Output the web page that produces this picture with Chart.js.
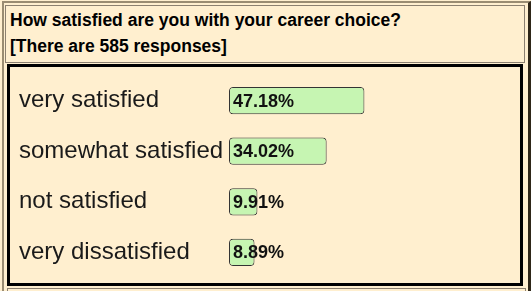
<!DOCTYPE html>
<html>
<head>
<meta charset="utf-8">
<script src="https://cdn.jsdelivr.net/npm/chart.js@4"></script>
<style>
  body { margin: 0; background: #FFEFCF; width: 531px; height: 291px; overflow: hidden; position: relative; font-family: Arial, "Liberation Sans", sans-serif; }
  #outer { position: absolute; left: 2px; top: 1px; width: 524px; height: 300px; border-left: 2px solid #9A8C72; border-top: 2px solid #9A8C72; border-right: 3px solid #2E2618; }
  #titleBox { position: absolute; left: 5px; top: 5px; width: 518px; height: 56px; border: 1px solid #8C8070; box-sizing: content-box; }
  #titleBox div { position: absolute; left: 4px; font-weight: bold; font-size: 17.5px; color: #000; white-space: nowrap; }
  #chartBox { position: absolute; left: 7px; top: 64px; width: 510px; height: 216px; border: 3px solid #000; }
  #nextRow { position: absolute; left: 7px; top: 288px; width: 517px; height: 5px; border: 1px solid #8C8070; }
  #wrap { position: absolute; left: 10px; top: 58px; width: 506px; height: 237px; }
</style>
</head>
<body>
<div id="outer"></div>
<div id="titleBox">
  <div id="title1" style="top:4px">How satisfied are you with your career choice?</div>
  <div id="title2" style="top:30px">[There are 585 responses]</div>
</div>
<div id="chartBox"></div>
<div id="nextRow"></div>
<div id="wrap"><canvas id="myChart"></canvas></div>
<script>
const categories = ['very satisfied', 'somewhat satisfied', 'not satisfied', 'very dissatisfied'];
const percentages = [47.18, 34.02, 9.91, 8.89];

// writes the percentage at the start of each bar
const valueLabels = {
    id: 'valueLabels',
    afterDatasetsDraw(chart) {
        const ctx = chart.ctx;
        const meta = chart.getDatasetMeta(0);
        ctx.save();
        ctx.font = 'bold 18px Arial, "Liberation Sans", sans-serif';
        ctx.fillStyle = '#111';
        ctx.textAlign = 'left';
        ctx.textBaseline = 'middle';
        meta.data.forEach((bar, i) => {
            ctx.fillText(percentages[i].toFixed(2) + '%', bar.base + 4, bar.y + 1);
        });
        ctx.restore();
    }
};

function init() {
    const ctx = document.getElementById('myChart').getContext('2d');
    new Chart(ctx, {
        type: 'bar',
        data: {
            labels: categories,
            datasets: [{
                data: percentages,
                backgroundColor: '#C6F5B2',
                borderColor: '#333',
                borderWidth: 1,
                borderRadius: 4,
                borderSkipped: false,
                categoryPercentage: 1,
                barPercentage: 0.54
            }]
        },
        options: {
            indexAxis: 'y',
            responsive: true,
            maintainAspectRatio: false,
            animation: false,
            layout: { padding: { left: 9, top: 0, bottom: 0, right: 0 } },
            plugins: {
                legend: { display: false },
                tooltip: { enabled: false }
            },
            scales: {
                x: { min: 0, max: 100, display: false },
                y: {
                    grid: { display: false },
                    border: { display: false },
                    ticks: {
                        crossAlign: 'far',
                        color: '#1a1a1a',
                        font: { family: 'Arial, "Liberation Sans", sans-serif', size: 24 }
                    },
                    afterFit(scale) { scale.width = 210; }
                }
            }
        },
        plugins: [valueLabels]
    });
}

window.addEventListener('DOMContentLoaded', init);
</script>
</body>
</html>
